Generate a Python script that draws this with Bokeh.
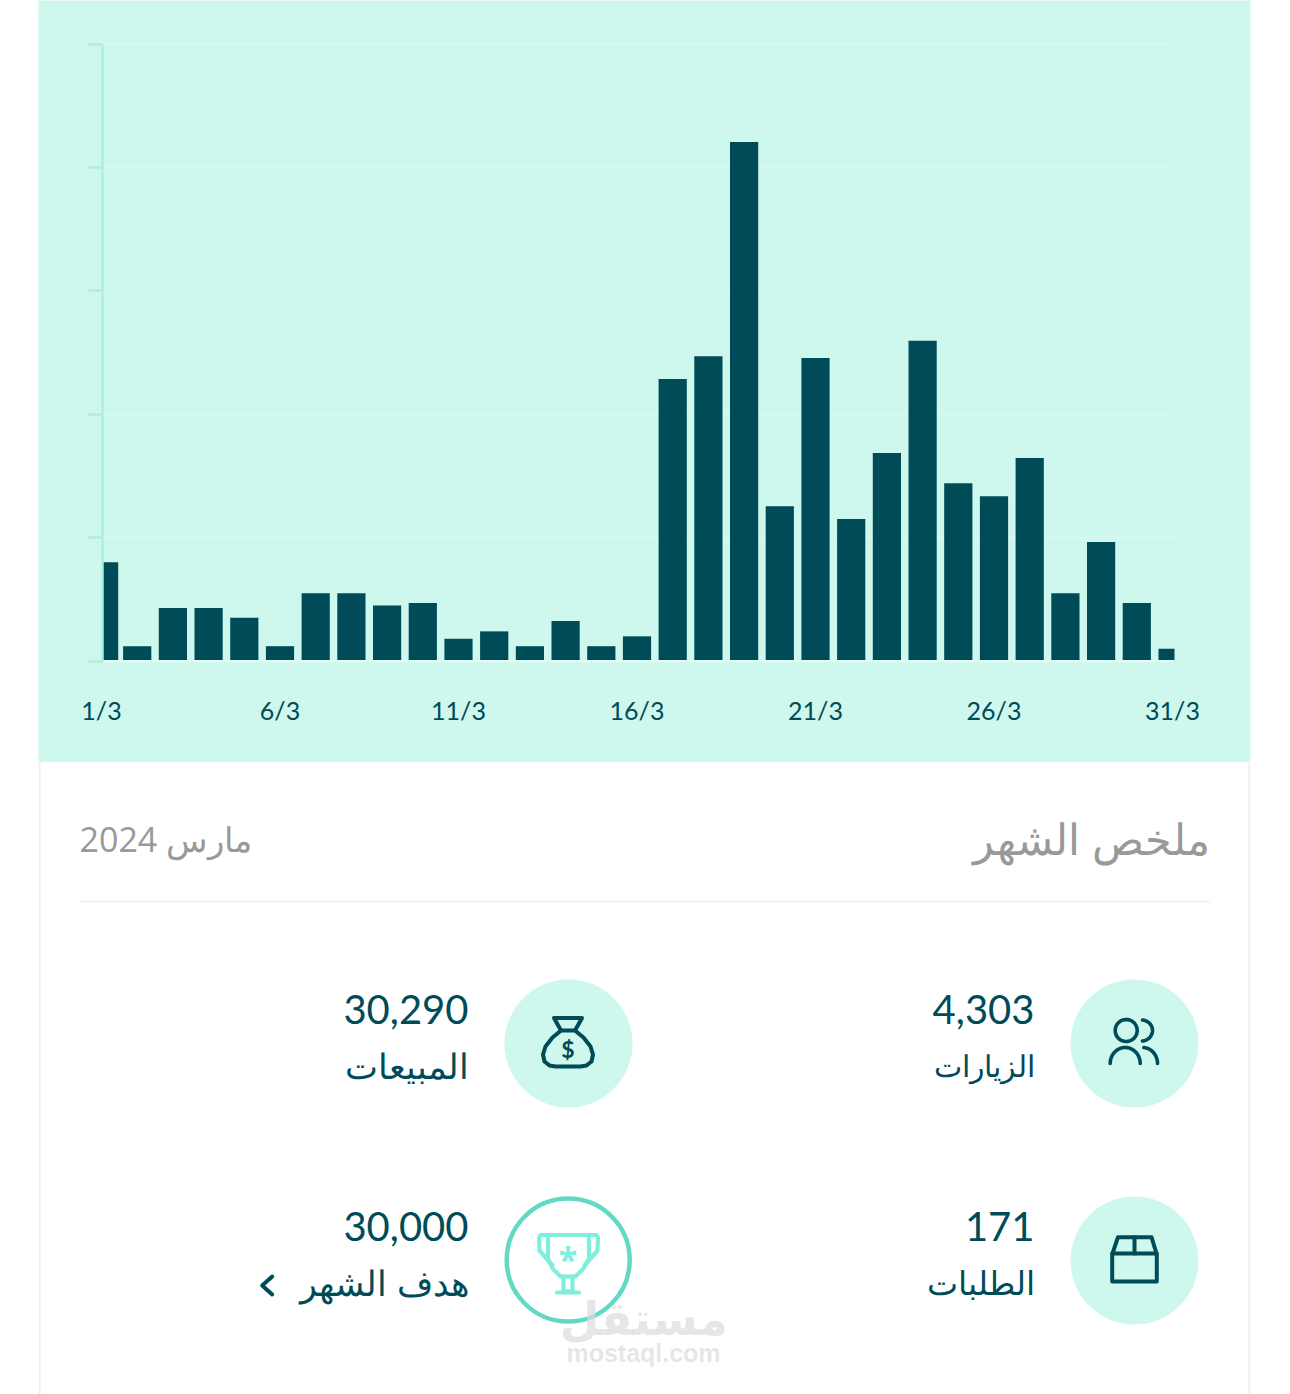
import numpy as np
from bokeh.plotting import figure
from bokeh.layouts import column
from bokeh.models import Range1d, LinearAxis, FixedTicker
from bokeh.core.properties import value
from bokeh.embed import file_html
from bokeh.resources import INLINE

days = list(range(1, 32))
sales = [800, 120, 430, 430, 350, 120, 550, 550, 450, 470, 180, 240, 120, 325, 120, 200,
         2285, 2470, 4205, 1255, 2455, 1150, 1685, 2595, 1440, 1335, 1645, 550, 965, 470, 100]
x_ticks = [1, 6, 11, 16, 21, 26, 31]
x_labels = ["1/3", "6/3", "11/3", "16/3", "21/3", "26/3", "31/3"]
y_ticks = [0, 1000, 2000, 3000, 4000, 5000]

title = "ملخص الشهر"
period = "مارس 2024"
kpi_values = ["4,303", "30,290", "171", "30,000"]
kpi_labels = ["الزيارات", "المبيعات", "الطلبات", "هدف الشهر"]

DARK = "#004b58"
TEAL = "#cef7ed"
FONT = value("Open Sans")
NUM_FONT = value("Lato")
PX_DAY = 35.7
PX_1000 = 123.4


def px_x(px):
    return 1 + (px - 102) / PX_DAY


def px_y(py):
    return (660.5 - py) / PX_1000 * 1000


top = figure(width=1290, height=762, output_backend="svg", toolbar_location=None,
             x_range=Range1d(px_x(39), px_x(1251)), y_range=Range1d(px_y(762), px_y(0)),
             x_axis_type=None, y_axis_type=None,
             min_border_left=38, min_border_right=40, min_border_top=0, min_border_bottom=0,
             background_fill_color=TEAL, border_fill_color="white", outline_line_color=None)
top.grid.visible = False

axis_start, axis_end = px_x(103.3), px_x(1175)
half = 14.1 / PX_DAY
left = [max(d - half, axis_start) for d in days]
right = [d + half for d in days]
right[0] = px_x(118.7)
right[-1] = axis_end
left[-1] = px_x(1159)

top.segment(x0=[axis_start] * len(y_ticks), x1=[axis_end] * len(y_ticks), y0=y_ticks, y1=y_ticks,
            line_color="#d5f9f1", line_width=2)
top.quad(left=left, right=right, bottom=[0] * 31, top=sales, fill_color=DARK, line_color=None)
top.segment(x0=[axis_start], x1=[axis_end], y0=[0], y1=[0], line_color="#e4fbf6", line_width=2)

yaxis = LinearAxis(ticker=FixedTicker(ticks=y_ticks), fixed_location=axis_start - 0.01,
                   bounds=(0, 5000),
                   axis_line_color="#aeefdc", axis_line_width=2.5,
                   major_tick_line_color="#aeefdc", major_tick_line_width=2.5,
                   major_tick_out=15, major_tick_in=0, minor_tick_line_color=None,
                   major_label_text_color=None)
top.add_layout(yaxis, "left")
xaxis = LinearAxis(ticker=FixedTicker(ticks=x_ticks), fixed_location=0,
                   major_label_overrides=dict(zip(x_ticks, x_labels)),
                   axis_line_color=None, major_tick_line_color=None, minor_tick_line_color=None,
                   major_label_standoff=28, major_label_text_color=DARK,
                   major_label_text_font="Lato", major_label_text_font_size="25px")
top.add_layout(xaxis, "below")

# lower card, in page-pixel layout coordinates (frame is aligned with the chart's frame)
bot = figure(width=1290, height=632, output_backend="svg", toolbar_location=None,
             x_range=Range1d(39, 1251), y_range=Range1d(1394, 762),
             x_axis_type=None, y_axis_type=None,
             min_border_left=38, min_border_right=40, min_border_top=0, min_border_bottom=0,
             background_fill_color="white", border_fill_color="white", outline_line_color=None)
bot.grid.visible = False


def txt(x, y, s, size, color, align="right", font=FONT, style="normal", alpha=1.0):
    bot.text([x], [y], text=[s], text_font=font, text_font_size=f"{size}px", text_color=color,
             text_align=align, text_baseline="middle", text_font_style=style, text_alpha=alpha)


def stroke(xs, ys, color=DARK, w=3.6):
    bot.line(xs, ys, line_color=color, line_width=w, line_cap="round", line_join="round")


def arc(cx, cy, rx, ry, a0, a1):
    t = np.radians(np.linspace(a0, a1, 40))
    return cx + rx * np.cos(t), cy + ry * np.sin(t)


for x in (40, 1250):
    bot.segment([x], [762], [x], [1394], line_color="#eeeeee", line_width=2)
bot.segment([80], [901], [1211], [901], line_color="#f3f3f3", line_width=2)

txt(1210, 838, title, 43, "#999999")
txt(80, 838, period, 34, "#999999", align="left")

bot.circle([1135, 569, 1135], [1043, 1043, 1260], radius=64, fill_color=TEAL, line_color=None)
bot.circle([568.7], [1259.5], radius=61.5, fill_color="white", line_color="#62d9c4", line_width=4.5)

txt(1035, 1009, kpi_values[0], 40, DARK, font=NUM_FONT)
txt(1035, 1065, kpi_labels[0], 30, DARK)
txt(469, 1009, kpi_values[1], 40, DARK, font=NUM_FONT)
txt(469, 1065, kpi_labels[1], 35, DARK)
txt(1035, 1226, kpi_values[2], 40, DARK, font=NUM_FONT)
txt(1035, 1282, kpi_labels[2], 33, DARK)
txt(469, 1226, kpi_values[3], 40, DARK, font=NUM_FONT)
txt(469, 1282, kpi_labels[3], 35, DARK)

# users icon
stroke(*arc(1126.7, 1030, 11, 11, 0, 360))
stroke(*arc(1142, 1030, 11, 10.5, -85, 85))
stroke(*arc(1125.7, 1063, 15, 16, 180, 360))
stroke(*arc(1143, 1063, 15, 16, -85, 0))

# box icon
stroke([1112.7, 1157.3, 1157.3, 1112.7, 1112.7], [1253, 1253, 1281, 1281, 1253], w=4)
stroke([1113, 1118.5, 1152, 1157], [1253, 1236.7, 1236.7, 1253], w=4)
stroke([1135, 1135], [1236.7, 1253], w=4)

# money bag icon
stroke([561.5, 554.5, 582.5, 575.5, 561.5], [1030, 1017.5, 1017.5, 1030, 1030], w=4)
stroke([561.5, 553, 546, 543.5, 545, 550, 556, 581, 587, 592, 593.5, 591, 584, 575.5],
       [1030, 1037, 1046, 1054, 1061, 1065, 1066, 1066, 1065, 1061, 1054, 1046, 1037, 1030], w=4)
txt(568.5, 1048, "$", 23, DARK, align="center", style="bold", font=NUM_FONT)

# trophy icon
T = "#7feedc"
stroke([548.5, 589.5, 589.5, 584, 576, 561, 553, 548.5, 548.5],
       [1234.5, 1234.5, 1258, 1268, 1276, 1276, 1268, 1258, 1234.5], T, 4.2)
stroke([548.5, 541, 539.5, 540, 553], [1234.5, 1234.5, 1237, 1250, 1265], T, 4.2)
stroke([589.5, 597, 598.5, 598, 585], [1234.5, 1234.5, 1237, 1250, 1265], T, 4.2)
stroke([564, 564, 573, 573], [1276, 1291, 1291, 1276], T, 4.2)
stroke([557.5, 579.5], [1292, 1292], T, 4.2)
txt(568.5, 1258, "*", 34, T, align="center", style="bold")

# chevron
stroke([272.7, 262.7, 272.7], [1276, 1285, 1294], DARK, 4)

# watermark
txt(644, 1318, "مستقل", 46, "#dcdcdc", align="center", font=value("DejaVu Sans"), style="bold", alpha=0.7)
txt(644, 1352, "mostaql.com", 25, "#dcdcdc", align="center", font=value("Liberation Sans"), style="bold", alpha=0.7)

page = column(top, bot, spacing=0)
open("out.html", "w").write(file_html(page, INLINE))
